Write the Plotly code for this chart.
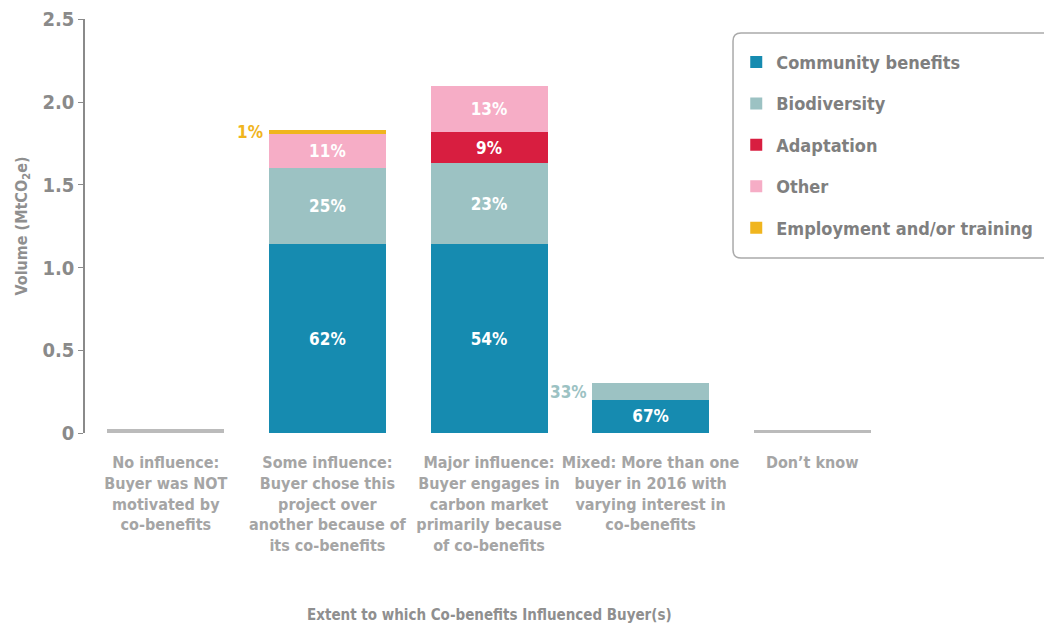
import plotly.graph_objects as go

categories = [
    "No influence:<br>Buyer was NOT<br>motivated by<br>co-benefits",
    "Some influence:<br>Buyer chose this<br>project over<br>another because of<br>its co-benefits",
    "Major influence:<br>Buyer engages in<br>carbon market<br>primarily because<br>of co-benefits",
    "Mixed: More than one<br>buyer in 2016 with<br>varying interest in<br>co-benefits",
    "Don’t know",
]

# Volumes (MtCO2e) per co-benefit segment
community = [0, 1.14, 1.14, 0.20, 0]
biodiversity = [0, 0.46, 0.49, 0.10, 0]
adaptation = [0, 0, 0.19, 0, 0]
other = [0, 0.21, 0.28, 0, 0]
employment = [0, 0.02, 0, 0, 0]
unspecified = [0.025, 0, 0, 0, 0.018]

# Percent labels per segment
community_pct = ["", "62%", "54%", "67%", ""]
biodiversity_pct = ["", "25%", "23%", "33%", ""]
adaptation_pct = ["", "", "9%", "", ""]
other_pct = ["", "11%", "13%", "", ""]
employment_pct = ["", "1%", "", "", ""]

y_tickvals = [0, 0.5, 1.0, 1.5, 2.0, 2.5]
y_ticktext = ["0", "0.5", "1.0", "1.5", "2.0", "2.5"]
x_title = "Extent to which Co-benefits Influenced Buyer(s)"

FONT = "DejaVu Sans Condensed, Roboto Condensed, Roboto, sans-serif"
series = [
    ("Community benefits", community, community_pct, "#168BB0"),
    ("Biodiversity", biodiversity, biodiversity_pct, "#9CC2C3"),
    ("Adaptation", adaptation, adaptation_pct, "#D81E40"),
    ("Other", other, other_pct, "#F6ADC6"),
    ("Employment and/or training", employment, employment_pct, "#F0B51E"),
]

fig = go.Figure()
fig.add_trace(go.Bar(x=categories, y=unspecified, marker_color="#BBBBBB",
                     marker_line_width=0, showlegend=False, hoverinfo="skip"))

annotations = []
cum = [0.0] * len(categories)
for i, (name, vals, pcts, color) in enumerate(series):
    inside = []
    for j, (v, p) in enumerate(zip(vals, pcts)):
        if p and v < 0.12:
            inside.append("")
            annotations.append(dict(
                x=categories[j], y=cum[j] + v / 2, xref="x", yref="y",
                text=p, showarrow=False, xanchor="right", yanchor="middle",
                xshift=-62, font=dict(family=FONT, size=17, color=color, weight="bold")))
        else:
            inside.append(p)
        cum[j] += v
    fig.add_trace(go.Bar(
        x=categories, y=vals, name=name, marker_color=color, marker_line_width=0,
        text=inside, textposition="inside", insidetextanchor="middle", textangle=0,
        constraintext="none",
        textfont=dict(family=FONT, size=17, color="white", weight="bold"),
        legendgroup=name,
    ))

annotations.append(dict(
    x=0.5, y=-0.4396, xref="paper", yref="paper", text=x_title, showarrow=False,
    xanchor="center", yanchor="middle",
    font=dict(family=FONT, size=15, color="#8f8f8f", weight="bold")))

# rounded legend frame (paper coords)
lx0, lx1, ly0, ly1 = 0.802, 1.25, 0.4227, 0.966
rx, ry = 8 / 808, 8 / 414
frame = (f"M {lx0+rx},{ly1} L {lx1},{ly1} L {lx1},{ly0} L {lx0+rx},{ly0} "
         f"Q {lx0},{ly0} {lx0},{ly0+ry} L {lx0},{ly1-ry} Q {lx0},{ly1} {lx0+rx},{ly1} Z")

fig.update_layout(
    barmode="stack",
    bargap=0.276,
    width=1052, height=627,
    margin=dict(l=77, r=167, t=11, b=202, autoexpand=False),
    plot_bgcolor="white", paper_bgcolor="white",
    font=dict(family=FONT, color="#8a8a8a", weight="bold"),
    shapes=[dict(type="path", path=frame, xref="paper", yref="paper",
                 line=dict(color="#aaaaaa", width=1.5), fillcolor="white", layer="below")],
    legend=dict(
        x=0.806, y=0.940, xanchor="left", yanchor="top",
        font=dict(family=FONT, size=18, color="#7f7f7f", weight="bold"),
        borderwidth=0, bgcolor="rgba(0,0,0,0)",
        traceorder="grouped", tracegroupgap=15,
    ),
    annotations=annotations,
    xaxis=dict(
        showline=False, ticks="", showgrid=False, automargin=False, tickangle=0,
        ticklabelstandoff=18,
        tickfont=dict(family=FONT, size=16, color="#a5a5a5", weight="bold"),
    ),
    yaxis=dict(
        range=[0, 2.502], tickvals=y_tickvals, ticktext=y_ticktext, automargin=False,
        ticklabeloverflow="allow",
        showline=True, linecolor="#8a8a8a", linewidth=1.5,
        ticks="outside", ticklen=5, tickcolor="#8a8a8a",
        showgrid=False, zeroline=False,
        tickfont=dict(family=FONT, size=20, color="#8a8a8a", weight="bold"),
        title=dict(text="Volume (MtCO<sub>2</sub>e)",
                   font=dict(family=FONT, size=16, color="#8f8f8f", weight="bold"),
                   standoff=11),
    ),
)

fig.write_html("out.html")
